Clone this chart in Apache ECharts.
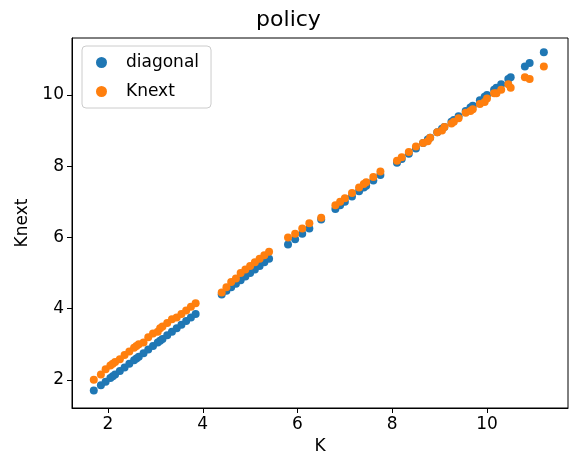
<!DOCTYPE html>
<html><head><meta charset="utf-8">
<script src="https://cdn.jsdelivr.net/npm/echarts@6/dist/echarts.min.js"></script>
<style>html,body{margin:0;padding:0;background:#fff}#c{width:577px;height:472px}</style>
</head><body><div id="c"></div>
<script>
const K = [1.7,1.85,1.95,2.05,2.1,2.15,2.25,2.35,2.45,2.55,2.6,2.65,2.75,2.85,2.95,3.05,3.1,3.15,3.25,3.35,3.45,3.55,3.65,3.75,3.85,4.4,4.5,4.6,4.7,4.8,4.9,5.0,5.1,5.2,5.3,5.4,5.8,5.95,6.1,6.25,6.5,6.8,6.9,7.0,7.15,7.3,7.4,7.45,7.6,7.75,8.1,8.2,8.35,8.5,8.65,8.75,8.8,8.95,9.05,9.1,9.25,9.3,9.4,9.55,9.65,9.7,9.85,9.95,10.0,10.15,10.2,10.3,10.45,10.5,10.8,10.9,11.2];
const Knext = [2.0,2.15,2.3,2.4,2.45,2.5,2.58,2.7,2.8,2.9,2.95,3.0,3.05,3.2,3.3,3.35,3.45,3.5,3.6,3.7,3.75,3.85,3.95,4.05,4.15,4.45,4.6,4.75,4.85,5.0,5.1,5.2,5.3,5.4,5.5,5.6,6.0,6.1,6.25,6.4,6.55,6.9,7.0,7.1,7.25,7.4,7.5,7.55,7.7,7.85,8.15,8.25,8.4,8.55,8.65,8.7,8.8,8.95,9.0,9.1,9.2,9.25,9.35,9.5,9.55,9.6,9.75,9.8,9.9,10.05,10.05,10.15,10.3,10.2,10.5,10.45,10.8];
const F = 'DejaVu Sans';
const ticks = [2,4,6,8,10];
const chart = echarts.init(document.getElementById('c'));
function ax(min,max,name,gap){return {type:'value',min:min,max:max,name:name,nameGap:gap,nameLocation:'middle',
  nameTextStyle:{color:'#000',fontSize:17,fontFamily:F},
  axisLine:{show:true,onZero:false,lineStyle:{color:'#000'}},
  axisTick:{show:true,length:5,customValues:ticks,lineStyle:{color:'#000'}},
  axisLabel:{color:'#000',fontSize:17,fontFamily:F,customValues:ticks},splitLine:{show:false}};}
chart.setOption({
  animation:false,
  title:{text:'policy',left:'center',top:4,textStyle:{fontSize:22,fontWeight:'normal',fontFamily:F,color:'#000'}},
  grid:{left:72,right:9,top:38,bottom:64,show:true,borderColor:'#000',borderWidth:1},
  legend:{left:82,top:46,orient:'vertical',itemWidth:11,itemHeight:11,itemGap:12,padding:[8,12,8,14],
    borderColor:'#ccc',borderWidth:1,borderRadius:4,textStyle:{fontSize:17,fontFamily:F,color:'#000',padding:[0,0,0,14]},
    data:[{name:'diagonal',icon:'circle'},{name:'Knext',icon:'circle'}]},
  xAxis:ax(1.24,11.71,'K',30),
  yAxis:ax(1.21,11.6,'Knext',38),
  series:[
    {name:'diagonal',type:'scatter',symbolSize:8,itemStyle:{color:'#1f77b4',opacity:1},data:K.map(k=>[k,k])},
    {name:'Knext',type:'scatter',symbolSize:8,itemStyle:{color:'#ff7f0e',opacity:1},data:K.map((k,i)=>[k,Knext[i]])}
  ]
});
</script></body></html>
